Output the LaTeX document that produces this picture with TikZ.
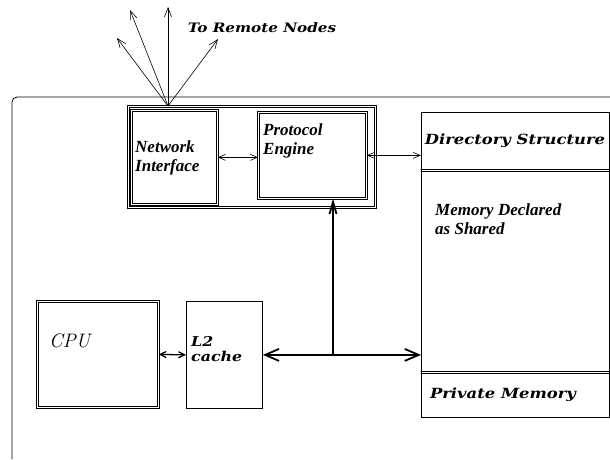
\documentclass[tikz,border=0pt]{standalone}
\usepackage{fontspec}
\newfontfamily\timesfam{Liberation Serif}
\newfontfamily\widefam{DejaVu Serif}[FakeStretch=1.17]
\usetikzlibrary{arrows.meta}

\begin{document}
\begin{tikzpicture}[
        x=1pt, y=-1pt,
        line cap=round,
        box/.style={draw, line width=0.8pt, inner sep=0pt, anchor=north west},
        dbox/.style={box, double, double distance=1.25pt, line width=0.75pt},
        wide label/.style={font=\fontsize{14}{17}\selectfont\widefam\bfseries\itshape, inner sep=0pt},
        serif label/.style={font=\fontsize{17}{19}\selectfont\timesfam\bfseries\itshape, align=left, inner sep=0pt},
        thin link/.style={line width=0.6pt, {Straight Barb[length=7pt, width=6pt]}-{Straight Barb[length=7pt, width=6pt]}},
        bus/.style={line width=1.8pt},
        separator/.style={line width=0.8pt},
    ]
    \useasboundingbox (0,0) rectangle (610,459);

    % node frame
    \draw[line width=0.8pt, rounded corners=5pt] (610,97) -- (12,97) -- (12,459);

    % network side
    \node[dbox, minimum width=247pt, minimum height=101pt] (netgrp) at (128,106) {};
    \node[dbox, minimum width=86pt, minimum height=94pt] (netif) at (131,110) {};
    \node[dbox, minimum width=108pt, minimum height=86pt] (proto) at (258,112) {};
    \node[serif label, anchor=west] (netiflabel) at (135,158) {Network\\Interface};
    \node[serif label, anchor=north west] (protolabel) at (263,123) {Protocol\\Engine};

    % memory
    \node[box, minimum width=188pt, minimum height=305pt] (mem) at (421,112) {};
    \coordinate (dirsep) at (421,169);
    \coordinate (privsep) at (421,371);
    \draw[separator] (dirsep) -- (dirsep -| mem.east)
        ([yshift=-2.6pt]dirsep) -- ([yshift=-2.6pt]dirsep -| mem.east);
    \draw[separator] (privsep) -- (privsep -| mem.east)
        ([yshift=-2.6pt]privsep) -- ([yshift=-2.6pt]privsep -| mem.east);
    \node[wide label] (dirlabel) at (515,141) {Directory Structure};
    \node[serif label, anchor=north west] (sharedlabel) at (435,203) {Memory Declared\\as Shared};
    \node[wide label] (privlabel) at (503,395) {Private Memory};

    % processor
    \node[dbox, minimum width=121pt, minimum height=106pt] (cpu) at (37,301) {};
    \node[box, minimum width=76pt, minimum height=107pt] (ltwo) at (186,301) {};
    \node[font=\fontsize{19.5}{21}\selectfont\itshape, inner sep=0pt, anchor=base west] (cpulabel) at (49,347) {CPU};
    \node[font=\fontsize{13.5}{15}\selectfont\widefam\bfseries\itshape, inner sep=0pt, align=left, anchor=west] (ltwolabel) at (191,349) {L2\\cache};

    % remote links
    \coordinate (hub) at (168,106);
    \coordinate (rmA) at (117,38);
    \coordinate (rmB) at (130,10);
    \coordinate (rmC) at (168,7);
    \coordinate (rmD) at (218,39);
    \foreach \r in {rmA,rmB,rmC,rmD}
        \draw[line width=0.6pt, -{Straight Barb[length=9pt, width=7pt]}] (hub) -- (\r);
    \node[wide label, font=\fontsize{13}{15}\selectfont\widefam\bfseries\itshape] (remotelabel) at (262,28) {To Remote Nodes};

    % connections
    \draw[thin link] (netif.east) -- (proto.west |- netif.east);
    \draw[thin link] (proto.east) -- (proto.east -| mem.west);
    \draw[line width=1.3pt, {Straight Barb[length=6pt, width=6pt]}-{Straight Barb[length=6pt, width=6pt]}]
        (cpu.east) -- (ltwo.west);
    \draw[bus, {Straight Barb[length=14pt, width=12pt]}-{Straight Barb[length=14pt, width=12pt]}]
        (ltwo.east) -- (ltwo.east -| mem.west);
    \coordinate (tap) at (333,354.5);
    \draw[bus, -{Straight Barb[length=12pt, width=7pt]}] (tap) -- (tap |- proto.south);
\end{tikzpicture}
\end{document}
